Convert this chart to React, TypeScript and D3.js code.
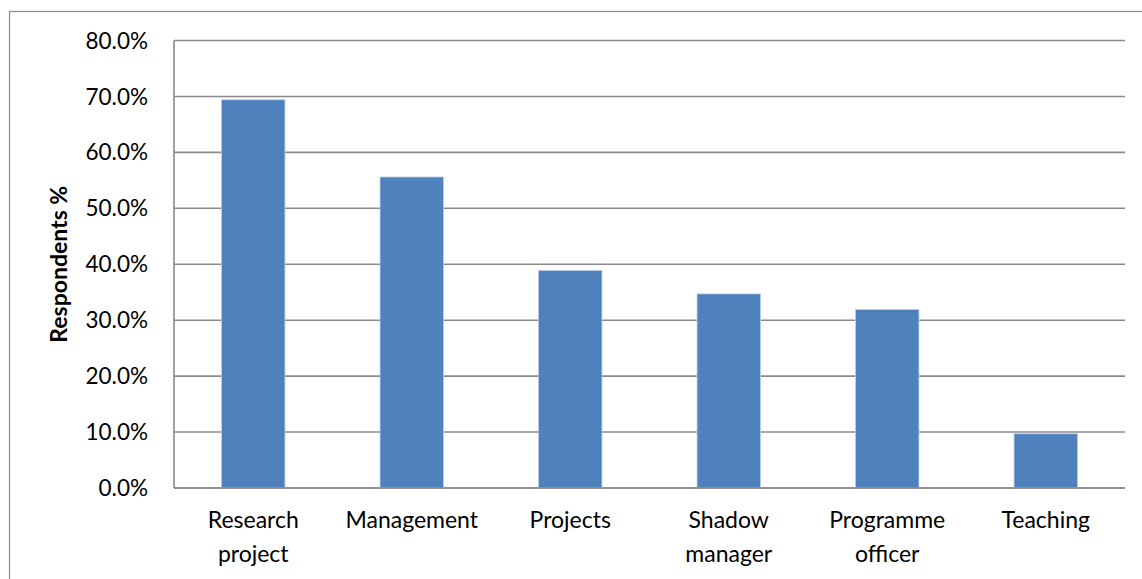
import React from "react";
import * as d3 from "d3";

const categories: string[][] = [
  ["Research", "project"],
  ["Management"],
  ["Projects"],
  ["Shadow", "manager"],
  ["Programme", "officer"],
  ["Teaching"],
];
const values: number[] = [69.4, 55.6, 38.9, 34.7, 31.9, 9.7];
const yTicks: number[] = [0, 10, 20, 30, 40, 50, 60, 70, 80];
const yTitle = "Respondents %";

const W = 1142;
const H = 579;
const left = 174;
const right = 1125;
const top = 40.5;
const bottom = 488;
const FONT = "Lato, 'Open Sans', sans-serif";

export default function App() {
  const keys = categories.map((c) => c.join(" "));
  const x = d3.scaleBand<string>().domain(keys).range([left, right]).paddingInner(0.6).paddingOuter(0.3);
  const y = d3.scaleLinear().domain([0, 80]).range([bottom, top]);
  return (
    <svg width={W} height={H} style={{ position: "absolute", left: 0, top: 0 }} fontFamily={FONT}>
      <rect x={0} y={0} width={W} height={H} fill="#fff" />
      <rect x={9.5} y={11.5} width={W + 10} height={H + 10} fill="none" stroke="#8c8c8c" strokeWidth={1.2} />
      {yTicks.map((t) => (
        <g key={t}>
          <line x1={left} x2={right} y1={y(t)} y2={y(t)} stroke="#8a8a8a" strokeWidth={1.6} />
          <text x={148} y={y(t)} dy="0.36em" textAnchor="end" fontSize={22.5} fill="#000">
            {t.toFixed(1) + "%"}
          </text>
        </g>
      ))}
      <line x1={left} x2={left} y1={top} y2={bottom} stroke="#8a8a8a" strokeWidth={1.6} />
      {values.map((v, i) => (
        <rect
          key={keys[i]}
          x={x(keys[i])!}
          y={y(v)}
          width={x.bandwidth()}
          height={y(0) - y(v)}
          fill="#4F81BD"
          stroke="#b9cde5"
          strokeWidth={0.8}
        />
      ))}
      <line x1={left} x2={right} y1={bottom} y2={bottom} stroke="#8a8a8a" strokeWidth={1.6} />
      {categories.map((lines, i) => (
        <text key={keys[i]} x={x(keys[i])! + x.bandwidth() / 2} y={528} textAnchor="middle" fontSize={23} fill="#000">
          {lines.map((l, j) => (
            <tspan key={j} x={x(keys[i])! + x.bandwidth() / 2} dy={j === 0 ? 0 : 34}>
              {l}
            </tspan>
          ))}
        </text>
      ))}
      <text
        transform={`translate(67, ${(top + bottom) / 2}) rotate(-90)`}
        textAnchor="middle"
        fontSize={23}
        fontWeight="bold"
        fill="#000"
      >
        {yTitle}
      </text>
    </svg>
  );
}
